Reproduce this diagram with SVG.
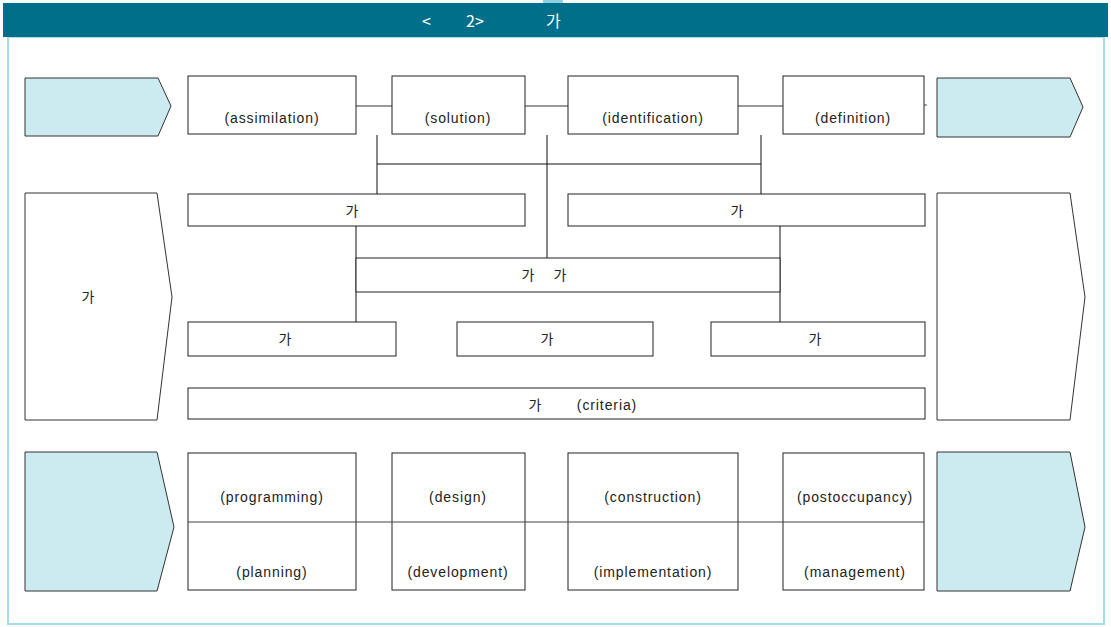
<svg xmlns="http://www.w3.org/2000/svg" width="1111" height="627" viewBox="0 0 1111 627">
<style>
.box{fill:#fff;stroke:#222;stroke-width:1}
.chev{fill:#CCEBF1;stroke:#333;stroke-width:1}
.chevw{fill:#fff;stroke:#333;stroke-width:1}
.t{font-family:"Liberation Sans",Arial,sans-serif;font-size:14px;fill:#222;letter-spacing:0.9px;text-anchor:middle}
.k{font-family:"Noto Sans CJK KR","Liberation Sans",sans-serif;font-size:14px;fill:#222;text-anchor:middle}
.con{stroke:#111;stroke-width:1;fill:none}
.cong{stroke:#777;stroke-width:1.3;fill:none}
</style>
<rect x="0" y="0" width="1111" height="627" fill="#fff"/>
<g id="frame">
<rect x="8" y="37" width="1096" height="587" fill="none" stroke="#A6DDEA" stroke-width="2"/>
<rect x="543" y="0" width="20" height="4" fill="#8FD0E2"/>
<rect x="3" y="3" width="1105" height="34" fill="#006F8A"/>
<text y="27" font-family="Noto Sans CJK KR,Liberation Sans,sans-serif" font-size="16" fill="#fff"><tspan x="422">&lt;</tspan><tspan x="466">2&gt;</tspan><tspan x="546">가</tspan></text>
</g>
<g id="connectors">
<line class="cong" x1="356" y1="106" x2="392" y2="106"/>
<line class="cong" x1="525" y1="106" x2="568" y2="106"/>
<line class="cong" x1="738" y1="106" x2="783" y2="106"/>
<line class="cong" x1="924" y1="105" x2="927" y2="105"/>
<line class="con" x1="377" y1="135" x2="377" y2="194"/>
<line class="con" x1="761" y1="135" x2="761" y2="194"/>
<line class="con" x1="547" y1="135" x2="547" y2="258"/>
<line class="con" x1="377" y1="164" x2="761" y2="164"/>
<line class="con" x1="356" y1="226" x2="356" y2="322"/>
<line class="con" x1="780" y1="226" x2="780" y2="322"/>
</g>
<g id="chev-top-left"><polygon class="chev" points="25,78 158,78 171,106 158,136 25,136"/></g>
<g id="chev-top-right"><polygon class="chev" points="937,78 1070,78 1083,107 1070,137 937,137"/></g>
<g id="chev-mid-left"><polygon class="chevw" points="25,193 157,193 172,297 157,420 25,420"/><text class="k" x="88" y="302">가</text></g>
<g id="chev-mid-right"><polygon class="chevw" points="937,193 1070,193 1085,297 1070,420 937,420"/></g>
<g id="chev-bot-left"><polygon class="chev" points="25,452 157,452 174,527 157,591 25,591"/></g>
<g id="chev-bot-right"><polygon class="chev" points="937,452 1070,452 1085,527 1070,591 937,591"/></g>
<g id="assimilation"><rect class="box" x="188" y="76" width="168" height="58"/><text class="t" x="272" y="123">(assimilation)</text></g>
<g id="solution"><rect class="box" x="392" y="76" width="133" height="58"/><text class="t" x="458" y="123">(solution)</text></g>
<g id="identification"><rect class="box" x="568" y="76" width="170" height="58"/><text class="t" x="653" y="123">(identification)</text></g>
<g id="definition"><rect class="box" x="783" y="76" width="141" height="58"/><text class="t" x="853" y="123">(definition)</text></g>
<g id="mid-a"><rect class="box" x="188" y="194" width="337" height="32"/><text class="k" x="352" y="216">가</text></g>
<g id="mid-b"><rect class="box" x="568" y="194" width="357" height="32"/><text class="k" x="737" y="216">가</text></g>
<g id="mid-c"><rect class="box" x="356" y="258" width="424" height="34"/><text class="k" x="528" y="280">가</text><text class="k" x="560" y="280">가</text></g>
<g id="low-a"><rect class="box" x="188" y="322" width="208" height="34"/><text class="k" x="285" y="344">가</text></g>
<g id="low-b"><rect class="box" x="457" y="322" width="196" height="34"/><text class="k" x="547" y="344">가</text></g>
<g id="low-c"><rect class="box" x="711" y="322" width="214" height="34"/><text class="k" x="815" y="344">가</text></g>
<g id="criteria"><rect class="box" x="188" y="388" width="737" height="31"/><text class="k" x="535" y="410">가</text><text class="t" x="607" y="410">(criteria)</text></g>
<g id="programming"><rect class="box" x="188" y="453" width="168" height="137"/><text class="t" x="272" y="502">(programming)</text><text class="t" x="272" y="577">(planning)</text></g>
<g id="design"><rect class="box" x="392" y="453" width="133" height="137"/><text class="t" x="458" y="502">(design)</text><text class="t" x="458" y="577">(development)</text></g>
<g id="construction"><rect class="box" x="568" y="453" width="170" height="137"/><text class="t" x="653" y="502">(construction)</text><text class="t" x="653" y="577">(implementation)</text></g>
<g id="postoccupancy"><rect class="box" x="783" y="453" width="141" height="137"/><text class="t" x="855" y="502">(postoccupancy)</text><text class="t" x="855" y="577">(management)</text></g>
<g id="phase-line"><line stroke="#444" stroke-width="1.2" x1="188" y1="522" x2="924" y2="522"/></g>
</svg>
